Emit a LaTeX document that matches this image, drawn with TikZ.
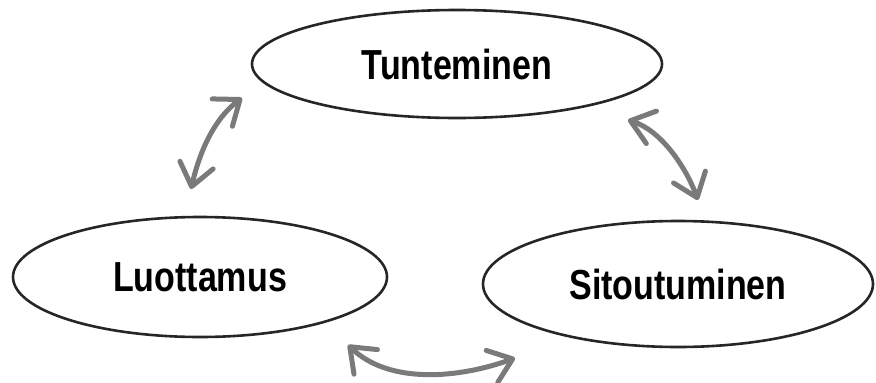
\documentclass[tikz,border=0pt]{standalone}
\usepackage{fontspec}
\setmainfont[FakeStretch=0.81]{Liberation Sans}
\usetikzlibrary{shapes.geometric,arrows.meta}
\definecolor{arrowgray}{HTML}{7A7A7A}
\definecolor{rimgray}{HTML}{262626}
\tikzset{
  bubble/.style={ellipse, draw=rimgray, line width=2.6pt, inner sep=0pt,
    font=\fontsize{42}{44}\selectfont\bfseries},
  barbtip/.style={Straight Barb[length=22pt,width=34pt,line width=4.5pt,line cap=round]},
  swing/.style={draw=arrowgray, line width=5pt, line cap=round,
    {Straight Barb[length=22pt,width=34pt,line cap=round,line join=round]}-{Straight Barb[length=22pt,width=34pt,line cap=round,line join=round]}}
}
\begin{document}
\begin{tikzpicture}[x=1pt,y=-1pt]
\useasboundingbox (0,0) rectangle (876,383);
\node[bubble, minimum width=410pt, minimum height=108pt] (tun) at (457,64) {Tunteminen};
\node[bubble, minimum width=374pt, minimum height=120pt] (luo) at (200,277) {Luottamus};
\node[bubble, minimum width=390pt, minimum height=126pt] (sit) at (678,284) {Sitoutuminen};
\coordinate (a1s) at (191,189);
\coordinate (a1e) at (242,98);
\coordinate (a2s) at (628,120);
\coordinate (a2e) at (698,200);
\coordinate (a3s) at (348,345);
\coordinate (a3e) at (515,358);
\draw[swing] (a1s) .. controls (200,150) and (215,118) .. (a1e);
\draw[swing] (a2s) .. controls (660,130) and (685,165) .. (a2e);
\draw[swing] (a3s) .. controls (390,385) and (460,378) .. (a3e);
\end{tikzpicture}
\end{document}
